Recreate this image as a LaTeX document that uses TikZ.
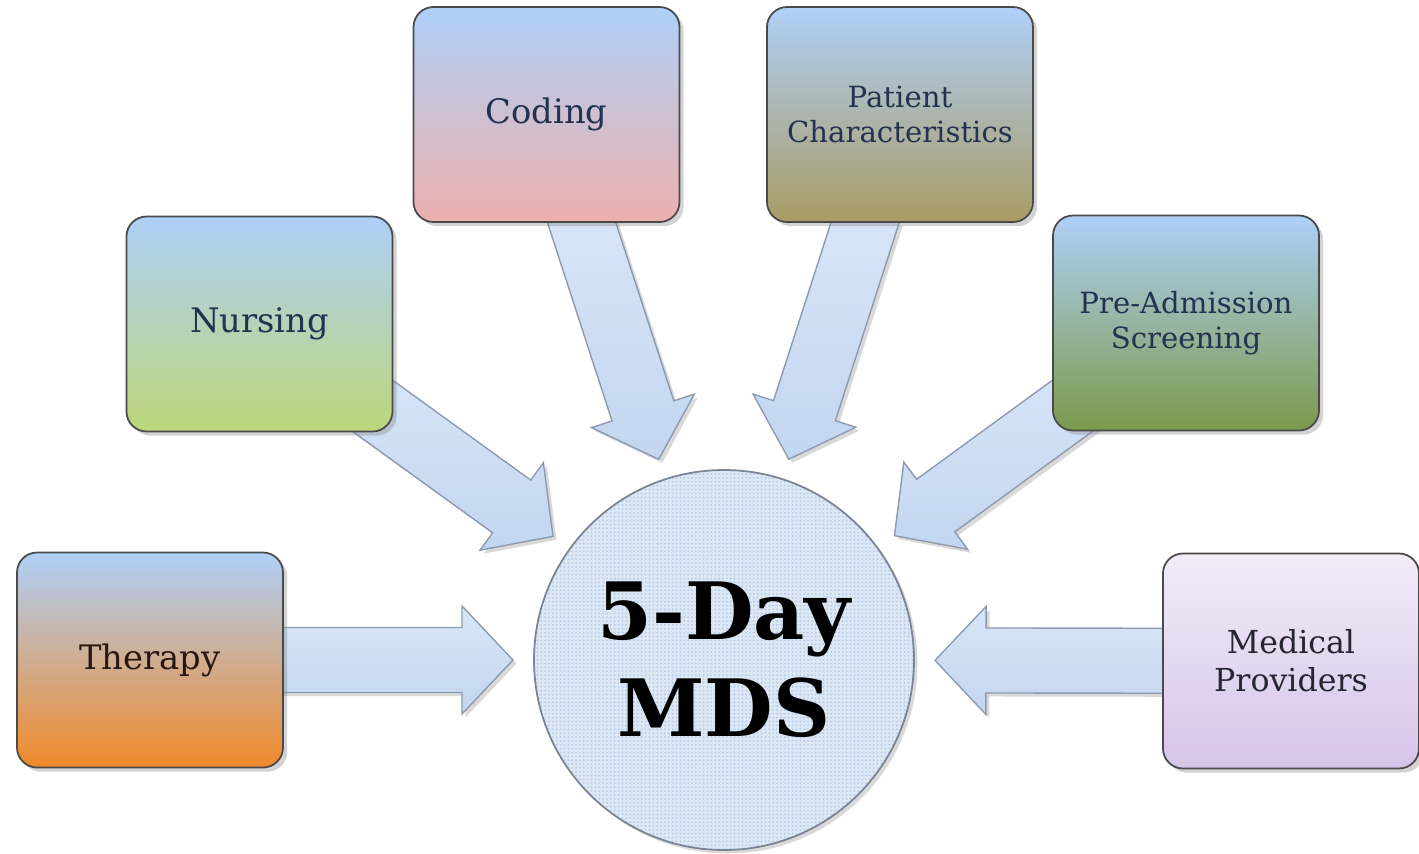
\documentclass[tikz,border=0pt]{standalone}
\usepackage{fontspec}
\setmainfont{DejaVu Serif}
\usetikzlibrary{calc, shadows, backgrounds, patterns.meta}

\definecolor{boxblue}{HTML}{AFD0F8}
\definecolor{therapyorange}{HTML}{F08A2A}
\definecolor{nursinggreen}{HTML}{BCD67A}
\definecolor{codingpink}{HTML}{EDB0AD}
\definecolor{patientkhaki}{HTML}{A99B64}
\definecolor{screenolive}{HTML}{7C9A4B}
\definecolor{medicaltop}{HTML}{F2ECF8}
\definecolor{medicallilac}{HTML}{D6C4EA}
\definecolor{labelnavy}{HTML}{22324F}
\definecolor{therapytext}{HTML}{2A1810}
\definecolor{medicaltext}{HTML}{262630}
\definecolor{boxline}{HTML}{4A4A4A}
\definecolor{flowtop}{HTML}{D8E6F8}
\definecolor{flowbottom}{HTML}{C3D6F0}
\definecolor{flowline}{HTML}{8D9AB0}
\definecolor{mdsfill}{HTML}{DCE8F6}
\definecolor{mdsdots}{HTML}{B8CAE3}
\definecolor{mdsline}{HTML}{7A8494}

\tikzset{
  box/.style={draw=boxline, line width=0.5pt, rounded corners=0.2cm,
    minimum width=2.66cm, minimum height=2.15cm, inner sep=0pt, align=center,
    text=labelnavy, font=\fontsize{9.6}{11.6}\selectfont,
    drop shadow={shadow xshift=1.2pt, shadow yshift=-1.2pt, opacity=0.35}},
  twoline/.style={font=\fontsize{8.3}{10}\selectfont},
  flow/.style={draw=flowline, line width=0.4pt, top color=flowtop, bottom color=flowbottom,
    drop shadow={shadow xshift=1pt, shadow yshift=-1pt, opacity=0.3}},
}

% block arrow from a source box into the centre circle
\newcommand\inflow[1]{%
  \draw[flow]
    ($(mds.center)!4.70cm!(#1.center)!0.325cm!90:(#1.center)$)
 -- ($(mds.center)!2.62cm!(#1.center)!0.325cm!90:(#1.center)$)
 -- ($(mds.center)!2.62cm!(#1.center)!0.54cm!90:(#1.center)$)
 -- ($(mds.center)!2.11cm!(#1.center)$)
 -- ($(mds.center)!2.62cm!(#1.center)!0.54cm!-90:(#1.center)$)
 -- ($(mds.center)!2.62cm!(#1.center)!0.325cm!-90:(#1.center)$)
 -- ($(mds.center)!4.70cm!(#1.center)!0.325cm!-90:(#1.center)$) -- cycle;}

\begin{document}
\begin{tikzpicture}
\useasboundingbox (0,0) rectangle (14.19,8.53);

% Centre circle
\node[circle, minimum size=3.80cm, inner sep=0pt, draw=mdsline, line width=0.5pt,
  drop shadow={shadow xshift=1pt, shadow yshift=-1pt, opacity=0.3},
  preaction={fill=mdsfill}, pattern={Dots[distance=1.1pt, radius=0.3pt]}, pattern color=mdsdots,
  align=center, font=\bfseries\fontsize{22.5}{27.5}\selectfont] (mds) at (7.24,1.93) {5-Day\\MDS};

% Source boxes
\node[box, top color=boxblue, bottom color=therapyorange, text=therapytext] (therapy) at (1.50,1.93) {Therapy};
\node[box, top color=boxblue, bottom color=nursinggreen] (nursing) at (2.595,5.29) {Nursing};
\node[box, top color=boxblue, bottom color=codingpink] (coding) at (5.465,7.385) {Coding};
\node[box, twoline, top color=boxblue, bottom color=patientkhaki] (patient) at (9.00,7.385) {Patient\\Characteristics};
\node[box, twoline, top color=boxblue, bottom color=screenolive] (screening) at (11.86,5.30) {Pre-Admission\\Screening};
\node[box, minimum width=2.56cm, top color=medicaltop, bottom color=medicallilac, text=medicaltext,
  font=\fontsize{9}{10.8}\selectfont] (medical) at (12.91,1.92) {Medical\\Providers};

% Arrows (behind the boxes)
\begin{scope}[on background layer]
\foreach \src in {therapy, nursing, coding, patient, screening, medical}
  \inflow{\src};
\end{scope}

\end{tikzpicture}
\end{document}
